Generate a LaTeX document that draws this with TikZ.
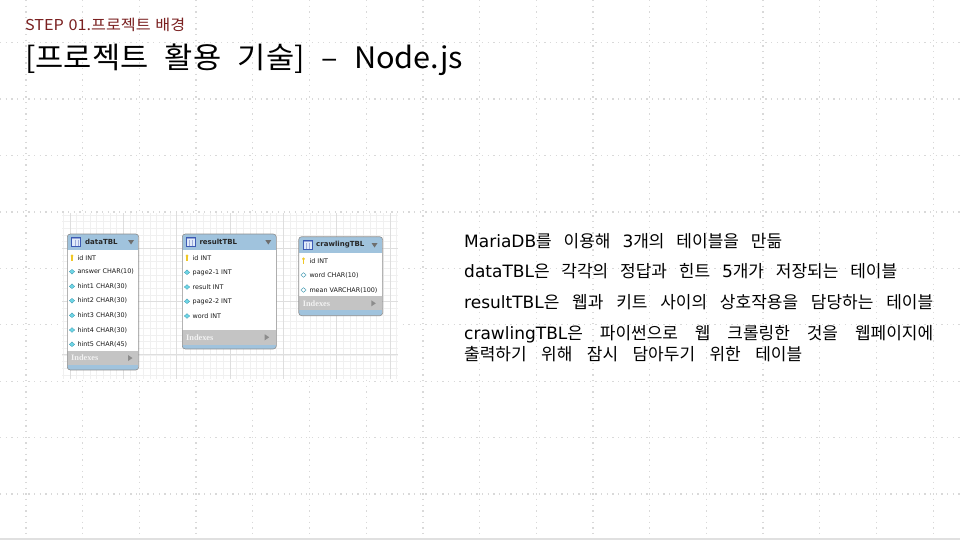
\documentclass[tikz,border=0pt]{standalone}
\usepackage{fontspec}
\setmainfont{Noto Sans CJK KR}
\newfontfamily\titlef[FakeStretch=1.04]{Noto Sans CJK KR}
\newfontfamily\stepf[FakeStretch=1.08]{Noto Sans CJK KR}
\newfontfamily\dejavu{DejaVu Sans}
\newfontfamily\serifx{Liberation Serif}
\newcommand{\lat}[1]{{\dejavu #1}}
\definecolor{stepred}{RGB}{122,32,32}
\definecolor{hdrblue}{RGB}{160,195,221}
\definecolor{idxgray}{RGB}{196,196,196}
\definecolor{tblborder}{RGB}{140,140,140}
\definecolor{iconblue}{RGB}{60,90,180}
\definecolor{iconfill}{RGB}{225,235,250}
\definecolor{keyyellow}{RGB}{240,200,40}
\definecolor{diacyan}{RGB}{110,215,230}
\definecolor{diaedge}{RGB}{60,150,175}
\definecolor{arrowgray}{RGB}{110,110,110}
\tikzset{
  griddot/.style={line width=1.3pt, draw=black!15, dash pattern=on 1.3pt off 4.37pt},
  minorgrid/.style={line width=0.4pt, draw=black!6},
  majorgrid/.style={line width=0.6pt, draw=black!13},
  rowtxt/.style={font=\dejavu\fontsize{6.4}{7}\selectfont, inner sep=0pt, anchor=west, text=black!90},
  hdrtxt/.style={font=\dejavu\bfseries\fontsize{7}{8}\selectfont, inner sep=0pt, anchor=west, text=black!85},
  idxtxt/.style={font=\serifx\bfseries\fontsize{8.3}{9}\selectfont, inner sep=0pt, anchor=west, text=white!95!black},
  bodytxt/.style={font=\fontsize{17}{20}\selectfont, inner sep=0pt, anchor=base west, text=black},
  tblframe/.style={draw=tblborder, line width=0.6pt, rounded corners=3pt}
}
\newcommand{\dbtable}[7]{%
  \begin{scope}
    \clip[rounded corners=3pt] (#1,#2) rectangle (#3,#4);
    \fill[white] (#1,#2) rectangle (#3,#4);
    \fill[hdrblue] (#1,#2) rectangle (#3,#5);
    \fill[idxgray] (#1,#6) rectangle (#3,#7);
    \fill[hdrblue] (#1,#7) rectangle (#3,#4);
  \end{scope}
  \draw[tblframe] (#1,#2) rectangle (#3,#4);
}
\newcommand{\tblicon}[2]{%
  \fill[iconfill] (#1,#2) rectangle ++(9,9);
  \fill[iconblue!55] (#1,#2) rectangle ++(9,1.8);
  \draw[iconblue!50, line width=0.3pt] ({#1+3},{#2+2}) -- ({#1+3},{#2+9}) ({#1+6},{#2+2}) -- ({#1+6},{#2+9});
  \draw[iconblue, line width=0.7pt] (#1,#2) rectangle ++(9,9);
}
\newcommand{\downtri}[2]{\fill[arrowgray] ({#1-3},{#2-2}) -- ({#1+3},{#2-2}) -- (#1,{#2+2.5}) -- cycle;}
\newcommand{\righttri}[2]{\fill[black!45] ({#1-2},{#2-3}) -- ({#1+2.5},#2) -- ({#1-2},{#2+3}) -- cycle;}
\newcommand{\keyicon}[2]{%
  \fill[keyyellow] (#1,{#2-1.8}) circle (1.5);
  \fill[keyyellow] ({#1-0.6},{#2-1.5}) rectangle ({#1+0.6},{#2+3});
}
\newcommand{\diaicon}[2]{\filldraw[fill=diacyan, draw=diaedge, line width=0.3pt] (#1,{#2-2.4}) -- ({#1+2.6},#2) -- (#1,{#2+2.4}) -- ({#1-2.6},#2) -- cycle;}
\newcommand{\hdiaicon}[2]{\filldraw[fill=white, draw=diaedge, line width=0.4pt] (#1,{#2-2.4}) -- ({#1+2.6},#2) -- (#1,{#2+2.4}) -- ({#1-2.6},#2) -- cycle;}
\begin{document}
\begin{tikzpicture}[x=1pt,y=-1pt]
\useasboundingbox (0,0) rectangle (960,540);
\fill[white] (0,0) rectangle (960,540);
% page dotted grid
\foreach \i in {0,...,16} \draw[griddot] ({26+56.7*\i},0) -- ({26+56.7*\i},540);
\foreach \j in {0,...,8} \draw[griddot] (0,{42.6+56.43*\j}) -- (960,{42.6+56.43*\j});
\fill[black!12] (0,537.5) rectangle (960,540);

% titles
\node[inner sep=0pt, anchor=base west, text=stepred, font=\stepf\fontsize{15}{17}\selectfont] (step) at (25,30.7) {\makebox[160pt][s]{STEP 01.프로젝트 배경}};
\node[inner sep=0pt, anchor=base west, text=black, font=\titlef\fontsize{29.5}{34}\selectfont] (title) at (25,68.5) {\makebox[438pt][s]{[프로젝트 활용 기술] – Node.js}};

% diagram background
\begin{scope}
  \clip (62,213) rectangle (398,379);
  \fill[white] (62,213) rectangle (398,379);
  \foreach \k in {0,...,51} \draw[minorgrid] ({63.33+6.667*\k},213) -- ({63.33+6.667*\k},379);
  \foreach \k in {0,...,25} \draw[minorgrid] (62,{214.7+6.667*\k}) -- (398,{214.7+6.667*\k});
  \foreach \k in {0,...,6} \draw[majorgrid] ({70+53.33*\k},213) -- ({70+53.33*\k},379);
  \foreach \k in {0,...,2} \draw[majorgrid] (62,{248+53.33*\k}) -- (398,{248+53.33*\k});
\end{scope}

% dataTBL
\dbtable{67.3}{234}{138.7}{370}{250}{351}{365}
\tblicon{71.7}{237.5}
\node[hdrtxt] (dataH) at (85,242.3) {dataTBL};
\downtri{131}{242}
\keyicon{72}{257.7}
\node[rowtxt] (d1) at (77.3,257.7) {id INT};
\diaicon{72}{271.7}
\node[rowtxt] (d2) at (77.3,271.7) {answer CHAR(10)};
\diaicon{72}{286.3}
\node[rowtxt] (d3) at (77.3,286.3) {hint1 CHAR(30)};
\diaicon{72}{300.7}
\node[rowtxt] (d4) at (77.3,300.7) {hint2 CHAR(30)};
\diaicon{72}{315.3}
\node[rowtxt] (d5) at (77.3,315.3) {hint3 CHAR(30)};
\diaicon{72}{330}
\node[rowtxt] (d6) at (77.3,330) {hint4 CHAR(30)};
\diaicon{72}{344.3}
\node[rowtxt] (d7) at (77.3,344.3) {hint5 CHAR(45)};
\node[idxtxt] (dIdx) at (71,358) {Indexes};
\righttri{130}{358}

% resultTBL
\dbtable{182.3}{234}{276.3}{349}{249.5}{330}{344.7}
\tblicon{186.5}{237.5}
\node[hdrtxt] (resH) at (199.3,242.3) {resultTBL};
\downtri{268.3}{242}
\keyicon{187}{257.7}
\node[rowtxt] (r1) at (192.5,257.7) {id INT};
\diaicon{187}{272.3}
\node[rowtxt] (r2) at (192.5,272.3) {page2-1 INT};
\diaicon{187}{287}
\node[rowtxt] (r3) at (192.5,287) {result INT};
\diaicon{187}{301.3}
\node[rowtxt] (r4) at (192.5,301.3) {page2-2 INT};
\diaicon{187}{316}
\node[rowtxt] (r5) at (192.5,316) {word INT};
\node[idxtxt] (rIdx) at (186,337.3) {Indexes};
\righttri{266.7}{337.3}

% crawlingTBL
\dbtable{298.7}{236.7}{382.7}{315.7}{252.7}{296}{310}
\tblicon{303}{240.5}
\node[hdrtxt] (crH) at (316,245) {crawlingTBL};
\downtri{374.5}{245}
\keyicon{303.5}{260.7}
\node[rowtxt] (c1) at (309.3,260.7) {id INT};
\hdiaicon{303.5}{275}
\node[rowtxt] (c2) at (309.3,275) {word CHAR(10)};
\hdiaicon{303.5}{290}
\node[rowtxt] (c3) at (309.3,290) {mean VARCHAR(100)};
\node[idxtxt] (cIdx) at (302.7,303.3) {Indexes};
\righttri{373.3}{303.3}

% description text
\node[bodytxt] (t1) at (464,247.3) {\makebox[318pt][s]{\lat{MariaDB}를 이용해 \lat{3}개의 테이블을 만듦}};
\node[bodytxt] (t2) at (464,277.3) {\makebox[433pt][s]{\lat{dataTBL}은 각각의 정답과 힌트 \lat{5}개가 저장되는 테이블}};
\node[bodytxt] (t3) at (464,308.3) {\makebox[469pt][s]{\lat{resultTBL}은 웹과 키트 사이의 상호작용을 담당하는 테이블}};
\node[bodytxt] (t4) at (464,339.3) {\makebox[469pt][s]{\lat{crawlingTBL}은 파이썬으로 웹 크롤링한 것을 웹페이지에}};
\node[bodytxt] (t5) at (464,360.5) {\makebox[338pt][s]{출력하기 위해 잠시 담아두기 위한 테이블}};
\end{tikzpicture}
\end{document}
